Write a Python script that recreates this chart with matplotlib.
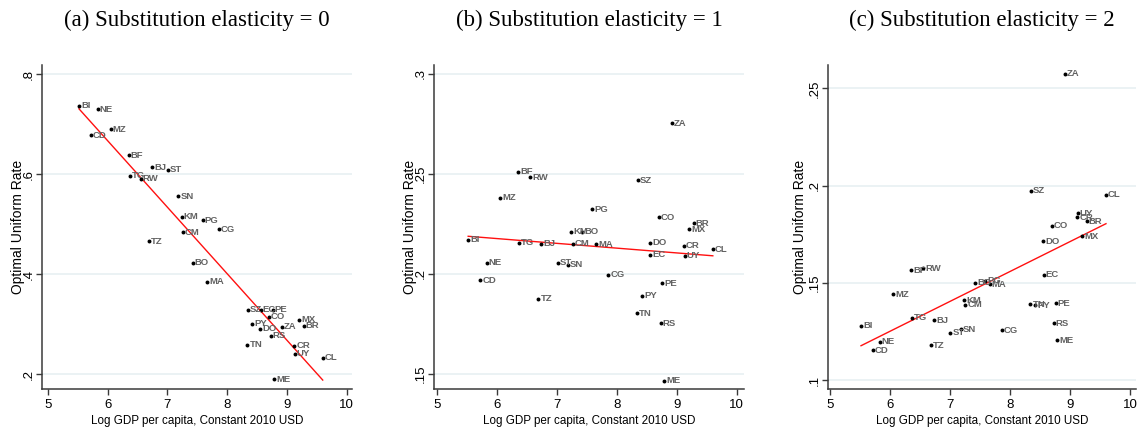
"""Optimal uniform rate vs log GDP per capita, three substitution elasticities."""

import matplotlib
matplotlib.use("Agg")
import matplotlib.pyplot as plt
import numpy as np

# country codes and log GDP per capita (shared by all panels)
countries = [
    "BI", "NE", "CD", "MZ", "BF", "RW", "TG", "BJ", "TZ", "ST", "SN", "KM",
    "CM", "BO", "PG", "MA", "CG", "SZ", "TN", "PY", "DO", "EC", "CO", "PE",
    "RS", "ZA", "ME", "UY", "CR", "MX", "BR", "CL",
]
log_gdp = [
    5.52, 5.83, 5.72, 6.05, 6.35, 6.55, 6.37, 6.74, 6.69, 7.01, 7.18, 7.24,
    7.26, 7.42, 7.59, 7.66, 7.86, 8.35, 8.34, 8.42, 8.55, 8.56, 8.70, 8.76,
    8.73, 8.92, 8.79, 9.13, 9.12, 9.20, 9.28, 9.60,
]

# optimal uniform rate for each elasticity
rate_sigma0 = [
    .736, .729, .677, .690, .638, .591, .596, .613, .466, .608, .555, .514,
    .483, .423, .507, .385, .489, .329, .259, .301, .291, .329, .315, .329,
    .277, .295, .190, .241, .257, .308, .296, .233,
]
rate_sigma1 = [
    .2170, .2055, .1968, .2380, .2512, .2483, .2157, .2150, .1875, .2055, .2045, .2210,
    .2150, .2210, .2323, .2148, .1997, .2468, .1803, .1890, .2157, .2095, .2283, .1953,
    .1753, .2753, .1467, .2092, .2140, .2223, .2253, .2123,
]
rate_sigma2 = [
    .1280, .1198, .1155, .1441, .1566, .1575, .1320, .1309, .1181, .1244, .1261, .1412,
    .1388, .1500, .1511, .1494, .1258, .1974, .1390, .1385, .1714, .1542, .1794, .1395,
    .1292, .2575, .1206, .1858, .1837, .1741, .1817, .1954,
]

titles = [
    "(a) Substitution elasticity = 0",
    "(b) Substitution elasticity = 1",
    "(c) Substitution elasticity = 2",
]
y_ticks = [[.2, .4, .6, .8], [.15, .2, .25, .3], [.1, .15, .2, .25]]

FIG_W, FIG_H = 1138, 443
plt.rcParams["font.family"] = ["Liberation Sans", "DejaVu Sans"]


def fmt_rate(value):
    return f"{value:g}".lstrip("0")


def draw_panel(fig, box, x_lim, y_lim, x, y, ticks, title, ylab_x):
    left, top, width, height = box
    ax = fig.add_axes([left / FIG_W, 1 - (top + height) / FIG_H, width / FIG_W, height / FIG_H])
    ax.set_xlim(*x_lim)
    ax.set_ylim(*y_lim)

    ax.scatter(x, y, s=8, color="black", zorder=3, linewidths=0)
    for code, xv, yv in zip(countries, x, y):
        ax.annotate(code, (xv, yv), xytext=(1.5, 0), textcoords="offset points",
                    ha="left", va="center", fontsize=6.8, fontweight="bold",
                    color="#626262", zorder=4)

    slope, intercept = np.polyfit(x, y, 1)
    xs = np.array([min(x), max(x)])
    ax.plot(xs, intercept + slope * xs, color="#ff1010", lw=1.0, zorder=2)

    ax.yaxis.grid(True, color="#e8f0f2", lw=1.2)
    ax.set_axisbelow(True)
    for side in ("top", "right"):
        ax.spines[side].set_visible(False)
    for side in ("left", "bottom"):
        ax.spines[side].set_color("#3a3a3a")
        ax.spines[side].set_linewidth(1.1)
    ax.tick_params(length=4, width=1, color="#3a3a3a", labelsize=9.5)
    ax.tick_params(axis="y", pad=5.5)
    ax.tick_params(axis="x", pad=3)
    ax.set_xticks([5, 6, 7, 8, 9, 10])
    ax.set_yticks(ticks, labels=[fmt_rate(t) for t in ticks], rotation=90,
                  ha="center", va="center", rotation_mode="anchor")

    ax.set_xlabel("Log GDP per capita, Constant 2010 USD", fontsize=8.4, labelpad=3)
    ax.set_ylabel("Optimal Uniform Rate", fontsize=10)
    ax.yaxis.set_label_coords(ylab_x, 0.5)
    ax.yaxis.label.set_va("center")
    ax.set_title(title, family=["Liberation Serif", "DejaVu Serif"], fontsize=16.5,
                 pad=28)
    return ax


fig = plt.figure(figsize=(FIG_W / 100, FIG_H / 100), dpi=100)
draw_panel(fig, (42, 65, 310, 324), (4.9, 10.09), (0.17, 0.818),
           log_gdp, rate_sigma0, y_ticks[0], titles[0], -0.077)
draw_panel(fig, (434, 65, 310, 324), (4.95, 10.12), (0.1425, 0.3045),
           log_gdp, rate_sigma1, y_ticks[1], titles[1], -0.077)
draw_panel(fig, (828, 65, 308, 324), (4.97, 10.1), (0.0955, 0.262),
           log_gdp, rate_sigma2, y_ticks[2], titles[2], -0.09)
fig.savefig("out.png", dpi=100)
